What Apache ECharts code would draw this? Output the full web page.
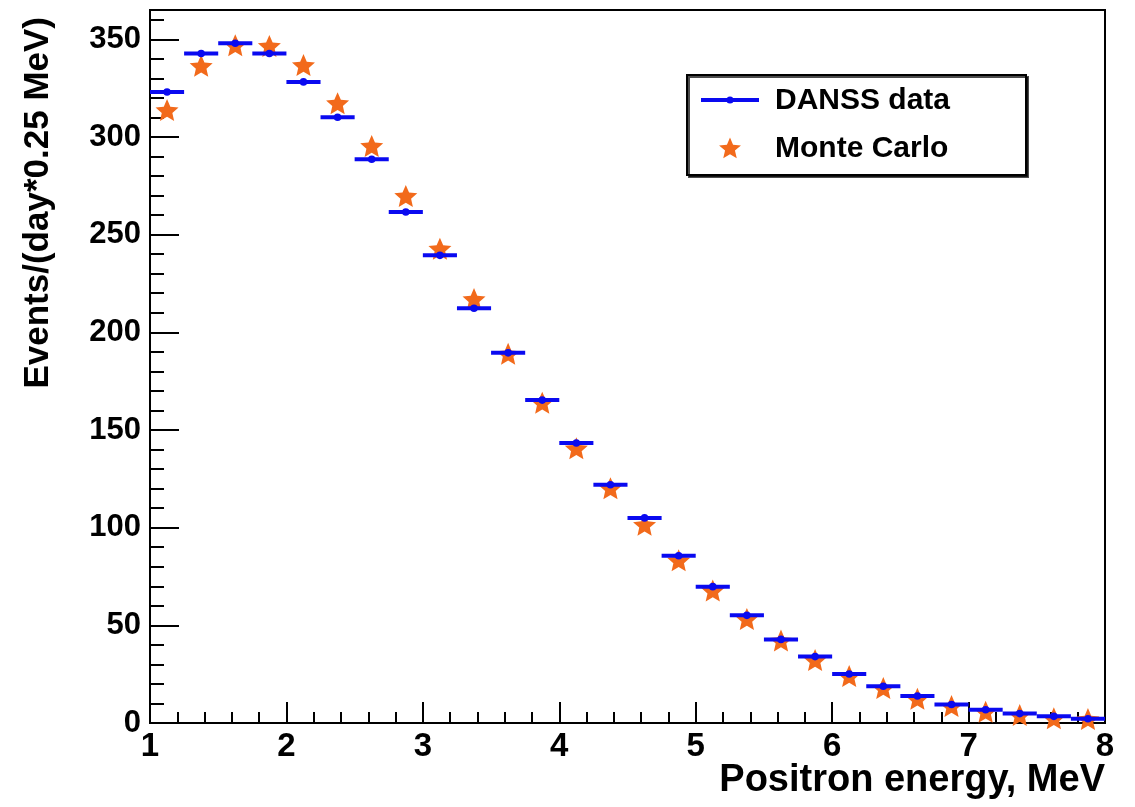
<!DOCTYPE html>
<html>
<head>
<meta charset="utf-8">
<script src="https://cdn.jsdelivr.net/npm/echarts@6/dist/echarts.min.js"></script>
<style>
  html, body { margin: 0; padding: 0; background: #fff; }
  #chart { width: 1135px; height: 807px; }
</style>
</head>
<body>
<div id="chart"></div>
<script>
// Positron energy spectrum: 0.25 MeV bins from 1 to 8 MeV
const binCenters = [1.125, 1.375, 1.625, 1.875, 2.125, 2.375, 2.625, 2.875, 3.125, 3.375,
                    3.625, 3.875, 4.125, 4.375, 4.625, 4.875, 5.125, 5.375, 5.625, 5.875,
                    6.125, 6.375, 6.625, 6.875, 7.125, 7.375, 7.625, 7.875];
const binWidth = 0.25;

// Events/(day*0.25 MeV)
const danssData = [323, 342.7, 348, 342.7, 328.2, 310.1, 288.6, 261.6, 239.4, 212.3,
                   189.5, 165.3, 143.3, 122, 105, 85.6, 69.8, 55.1, 42.8, 34,
                   25.1, 18.8, 13.8, 9.5, 6.8, 4.8, 3.4, 2.2];
const monteCarlo = [313.8, 336.4, 347, 346.6, 336.8, 317.3, 295.4, 269.8, 242.8, 217,
                    189, 164, 140.6, 120.2, 101.5, 83.3, 67.8, 53.3, 42.2, 32.2,
                    24, 17.9, 12.4, 8.7, 5.8, 4.1, 2.4, 2.0];

const xTicks = [1, 2, 3, 4, 5, 6, 7, 8];
const yTicks = [0, 50, 100, 150, 200, 250, 300, 350];

const BLUE = '#0a0af0';
const ORANGE = '#f26a1b';
const FONT = '"Liberation Sans", Arial, Helvetica, sans-serif';

// five-pointed star outline (ROOT full-star marker look)
function starPoints(cx, cy, rOuter, rInner) {
  const pts = [];
  for (let i = 0; i < 10; i++) {
    const r = i % 2 === 0 ? rOuter : rInner;
    const a = -Math.PI / 2 + i * Math.PI / 5;
    pts.push([cx + r * Math.cos(a), cy + r * Math.sin(a)]);
  }
  return pts;
}
const starPath = 'path://' + starPoints(0, 0, 1, 0.46)
  .map((p, i) => (i ? 'L' : 'M') + p[0].toFixed(4) + ',' + p[1].toFixed(4)).join(' ') + ' Z';

const chart = echarts.init(document.getElementById('chart'), null, { renderer: 'canvas' });

const axisText = { color: '#000', fontFamily: FONT, fontWeight: 'bold' };

const option = {
  animation: false,
  backgroundColor: '#fff',
  grid: {
    left: 150, right: 30, top: 10, bottom: 84,
    show: true, borderColor: '#000', borderWidth: 2, backgroundColor: '#fff'
  },
  xAxis: [
    {
      type: 'value', min: xTicks[0], max: xTicks[xTicks.length - 1], interval: 1,
      position: 'bottom',
      axisLine: { show: true, lineStyle: { color: '#000', width: 2 } },
      axisTick: { show: true, inside: true, length: 21, lineStyle: { color: '#000', width: 2 } },
      axisLabel: Object.assign({ fontSize: 33, margin: 7 }, axisText),
      splitLine: { show: false }
    },
    {
      type: 'value', min: xTicks[0], max: xTicks[xTicks.length - 1], interval: 0.2,
      position: 'bottom',
      axisLine: { show: false },
      axisTick: { show: true, inside: true, length: 11, lineStyle: { color: '#000', width: 2 } },
      axisLabel: { show: false },
      splitLine: { show: false }
    }
  ],
  yAxis: [
    {
      type: 'value', min: yTicks[0], max: 365, interval: 50,
      position: 'left',
      axisLine: { show: true, lineStyle: { color: '#000', width: 2 } },
      axisTick: { show: true, inside: true, length: 29, lineStyle: { color: '#000', width: 2 } },
      axisLabel: Object.assign({
        fontSize: 31, margin: 9,
        formatter: v => (yTicks.indexOf(v) >= 0 ? String(v) : '')
      }, axisText),
      splitLine: { show: false }
    },
    {
      type: 'value', min: yTicks[0], max: 365, interval: 10,
      position: 'left',
      axisLine: { show: false },
      axisTick: { show: true, inside: true, length: 14, lineStyle: { color: '#000', width: 2 } },
      axisLabel: { show: false },
      splitLine: { show: false }
    }
  ],
  series: [
    {
      name: 'DANSS data',
      type: 'custom',
      xAxisIndex: 0, yAxisIndex: 0,
      z: 3,
      data: binCenters.map((x, i) => [x, danssData[i]]),
      encode: { x: 0, y: 1 },
      renderItem: function (params, api) {
        const x = api.value(0), y = api.value(1);
        const left = api.coord([x - binWidth / 2, y]);
        const right = api.coord([x + binWidth / 2, y]);
        const mid = api.coord([x, y]);
        return {
          type: 'group',
          children: [
            { type: 'line', shape: { x1: left[0], y1: left[1], x2: right[0], y2: right[1] },
              style: { stroke: BLUE, lineWidth: 4 } },
            { type: 'circle', shape: { cx: mid[0], cy: mid[1], r: 3.8 },
              style: { fill: BLUE } }
          ]
        };
      }
    },
    {
      name: 'Monte Carlo',
      type: 'scatter',
      xAxisIndex: 0, yAxisIndex: 0,
      z: 2,
      data: binCenters.map((x, i) => [x, monteCarlo[i]]),
      symbol: starPath,
      symbolSize: [23, 22],
      itemStyle: { color: ORANGE, opacity: 1 }
    }
  ],
  graphic: [
    // axis titles
    {
      type: 'text', x: 1105, y: 781, z: 10,
      style: { text: 'Positron energy, MeV', font: 'bold 38px ' + FONT,
               fill: '#000', align: 'right', verticalAlign: 'middle' }
    },
    {
      type: 'text', x: 38, y: 17, rotation: Math.PI / 2, z: 10,
      style: { text: 'Events/(day*0.25 MeV)', font: 'bold 35px ' + FONT,
               fill: '#000', align: 'right', verticalAlign: 'middle' }
    },
    // legend box
    {
      type: 'rect', z: 10,
      shape: { x: 687, y: 75, width: 339, height: 100 },
      style: { fill: '#fff', stroke: '#000', lineWidth: 2,
               shadowColor: 'rgba(0,0,0,0.7)', shadowOffsetX: 2, shadowOffsetY: 2, shadowBlur: 0 }
    },
    {
      type: 'line', z: 11,
      shape: { x1: 701, y1: 100, x2: 759, y2: 100 },
      style: { stroke: BLUE, lineWidth: 4 }
    },
    {
      type: 'circle', z: 12,
      shape: { cx: 730, cy: 100, r: 3.6 },
      style: { fill: BLUE }
    },
    {
      type: 'polygon', z: 11,
      shape: { points: starPoints(730, 149, 11.5, 5.2) },
      style: { fill: ORANGE }
    },
    {
      type: 'text', x: 775, y: 101, z: 11,
      style: { text: 'DANSS data', font: 'bold 30px ' + FONT, fill: '#000',
               align: 'left', verticalAlign: 'middle' }
    },
    {
      type: 'text', x: 775, y: 149, z: 11,
      style: { text: 'Monte Carlo', font: 'bold 30px ' + FONT, fill: '#000',
               align: 'left', verticalAlign: 'middle' }
    }
  ]
};

chart.setOption(option);
</script>
</body>
</html>
